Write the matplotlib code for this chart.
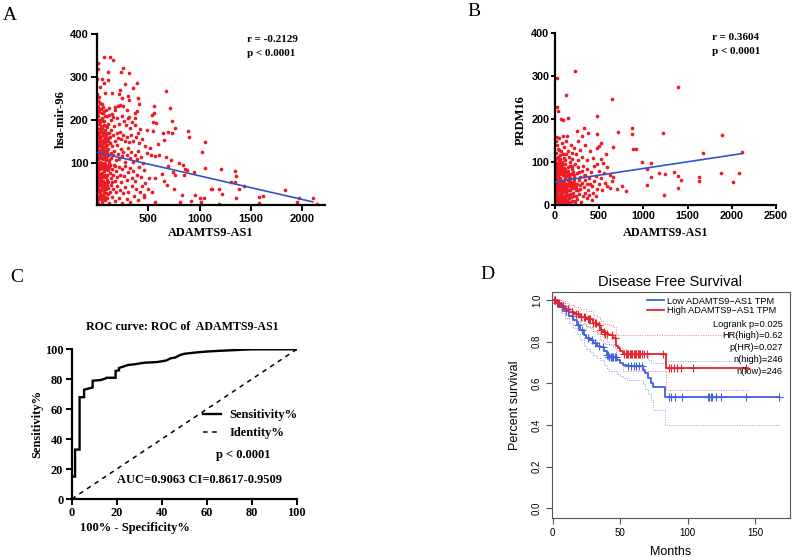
import numpy as np
import matplotlib
matplotlib.use("Agg")
import matplotlib.pyplot as plt

W, H = 797, 557
SERIF = "Liberation Serif"
SANS = "Liberation Sans"
RED = "#ec1c24"
BLUE = "#3552c8"

# ---- panel A: ADAMTS9-AS1 vs hsa-mir-96 ----
a_points = [
    # sparse tail
    (542, 196), (578, 193), (487, 175), (546, 173), (644, 169), (693, 171), (758, 180), (732, 169),
    (650, 152), (594, 144), (895, 160), (1052, 148), (1019, 124), (470, 138), (519, 134), (487, 123),
    (529, 118), (562, 116), (601, 118), (673, 114), (725, 105), (693, 93), (797, 99), (836, 95),
    (856, 85), (879, 82), (738, 79), (764, 70), (846, 70), (944, 78), (1052, 87), (568, 64),
    (634, 74), (650, 58), (683, 47), (748, 37), (823, 25), (804, 8), (911, 9), (953, 23),
    (1042, 17), (1009, 8), (497, 39), (536, 30), (454, 23), (562, 8), (464, 51), (510, 64),
    (1205, 85), (1346, 81), (1352, 68), (1343, 54), (1303, 54), (1434, 44), (1385, 38), (1107, 39),
    (1189, 38), (1215, 26), (1352, 17), (1581, 20), (1620, 21), (1575, 5), (1826, 35), (1950, 8),
    (1963, 18), (2104, 17), (2140, 3), (1192, 2), (1124, 39), (1003, 16),
    (670, 268), (706, 228), (735, 197), (882, 174), (552, 217), (539, 211), (555, 232),
    # upper outliers
    (72, 346), (124, 347), (160, 339), (5, 334), (13, 318), (105, 311), (235, 311), (258, 322),
    (307, 309), (3, 295), (46, 295), (72, 287), (105, 293), (268, 284), (389, 285), (346, 274),
    (225, 270), (216, 260), (29, 276), (3, 260), (20, 254), (78, 262), (144, 263), (242, 252),
    (301, 256), (314, 246), (8, 245), (46, 238), (412, 238), (176, 231), (209, 232), (252, 232),
    (291, 223), (372, 217), (389, 221), (13, 223), (72, 221), (7, 210), (78, 210), (118, 212),
    (160, 207), (307, 206), (366, 204), (402, 251),
    # dense cluster
    (5, 245), (12, 232), (20, 218), (30, 240), (38, 226), (48, 205), (55, 230), (62, 215),
    (70, 198), (85, 222), (95, 208), (110, 190), (120, 228), (135, 200), (150, 214), (165, 185),
    (180, 222), (195, 205), (210, 190), (225, 235), (240, 210), (260, 198), (280, 188), (300, 205),
    (320, 180), (345, 195), (370, 188), (395, 170), (420, 178), (3, 200), (15, 190), (25, 178),
    (40, 185), (52, 172), (65, 188), (78, 176), (88, 165), (100, 182), (115, 170), (128, 160),
    (140, 176), (155, 165), (172, 150), (190, 168), (205, 158), (220, 172), (235, 155), (250, 165),
    (270, 150), (290, 160), (310, 148), (330, 165), (355, 150), (380, 160), (410, 145), (440, 155),
    (2, 155), (8, 145), (14, 160), (22, 138), (30, 150), (36, 128), (44, 142), (50, 120),
    (58, 135), (66, 112), (74, 148), (82, 126), (90, 140), (98, 115), (106, 132), (114, 105),
    (122, 145), (132, 122), (140, 110), (150, 138), (160, 118), (170, 128), (182, 105), (195, 140),
    (208, 120), (218, 108), (230, 132), (245, 115), (258, 125), (272, 102), (288, 118), (300, 135),
    (318, 110), (335, 125), (350, 102), (368, 118), (385, 108), (402, 128), (425, 112), (448, 100),
    (4, 120), (10, 108), (18, 125), (26, 102), (34, 115), (42, 100), (56, 108), (70, 100),
    (85, 106), (95, 122),
    (3, 95), (9, 82), (15, 90), (20, 70), (27, 85), (33, 62), (40, 92), (47, 75),
    (54, 88), (60, 58), (68, 80), (76, 92), (84, 66), (92, 85), (100, 72), (108, 55),
    (116, 90), (124, 76), (132, 64), (142, 86), (152, 70), (162, 95), (172, 58), (185, 80),
    (198, 66), (210, 90), (222, 72), (235, 55), (248, 85), (262, 68), (276, 92), (290, 60),
    (305, 78), (320, 88), (338, 64), (352, 80), (370, 56), (388, 72), (405, 90), (430, 66),
    (455, 82), (6, 66), (12, 52), (24, 60), (38, 56), (50, 68), (64, 52), (80, 96),
    (96, 60), (112, 98), (128, 94), (145, 54), (178, 92),
    (2, 45), (8, 30), (14, 40), (19, 22), (26, 48), (32, 15), (38, 35), (45, 8),
    (52, 42), (58, 25), (66, 38), (74, 12), (82, 45), (90, 28), (98, 18), (108, 40),
    (118, 5), (126, 32), (135, 48), (148, 20), (160, 38), (172, 10), (185, 30), (198, 45),
    (212, 18), (225, 35), (240, 5), (256, 28), (272, 42), (288, 15), (305, 32), (322, 8),
    (340, 45), (358, 22), (375, 38), (395, 12), (415, 30), (438, 45), (460, 20), (4, 12),
    (10, 5), (48, 20),
    (1, 180), (6, 172), (11, 165), (17, 150), (23, 168), (29, 158), (35, 175), (41, 162),
    (47, 150), (53, 180), (59, 165), (65, 155), (71, 170), (77, 158), (83, 185), (89, 150),
    (95, 170), (103, 158), (111, 150), (2, 132), (7, 138), (13, 112), (19, 146), (25, 130),
    (31, 120), (37, 140), (43, 110), (49, 135), (55, 122), (61, 145), (67, 128), (73, 118),
    (79, 136), (86, 112), (93, 130), (101, 140), (109, 118), (1, 88), (5, 75), (11, 98),
    (17, 58), (23, 94), (29, 74), (35, 98), (41, 64), (47, 90), (53, 70), (59, 94),
    (65, 66), (71, 86), (77, 70), (87, 52), (95, 92), (103, 82), (1, 20), (6, 55),
    (16, 50), (21, 35), (29, 28), (35, 50), (42, 25), (57, 50), (63, 15), (70, 30),
    (80, 20), (88, 38), (96, 48), (104, 26), (3, 215), (9, 200), (16, 225), (27, 200),
    (33, 195), (45, 215), (60, 198),
]
a_fit = (124.0, -0.0552)   # intercept, slope
a_fit_end = 2100

# ---- panel B: ADAMTS9-AS1 vs PRDM16 ----
b_points = [
    (227, 313), (19, 297), (121, 256), (649, 246), (1390, 276), (19, 228), (30, 218), (68, 200),
    (151, 203), (87, 198), (472, 207), (19, 159), (94, 161), (246, 173), (329, 179), (377, 168),
    (472, 165), (718, 171), (869, 179), (876, 165), (1227, 168), (1669, 122), (1889, 163), (888, 130),
    (912, 130), (499, 138), (661, 136), (989, 101), (1084, 99), (1039, 85), (1171, 74), (1246, 72),
    (1341, 78), (1390, 68), (1428, 58), (1624, 65), (1624, 57), (1877, 74), (2080, 75), (2013, 54),
    (1238, 23), (1039, 46), (1084, 65), (1390, 39), (2115, 124),
    (5, 5), (12, 15), (20, 25), (28, 8), (36, 20), (45, 3), (55, 18), (65, 28),
    (75, 10), (85, 22), (95, 5), (108, 15), (120, 28), (135, 12), (150, 24), (165, 6),
    (180, 18), (198, 28), (215, 10), (232, 22), (250, 14), (270, 26), (292, 8), (315, 20),
    (340, 28), (365, 16), (390, 24), (420, 12), (8, 28), (16, 10), (24, 2), (40, 12),
    (60, 8), (90, 14), (110, 2), (140, 20), (430, 28), (460, 22),
    (3, 35), (10, 48), (18, 40), (26, 55), (33, 32), (42, 50), (50, 42), (58, 58),
    (66, 36), (74, 52), (82, 44), (90, 34), (100, 56), (112, 40), (124, 50), (136, 34),
    (148, 58), (160, 44), (174, 36), (188, 52), (202, 40), (218, 56), (234, 34), (250, 48),
    (268, 58), (285, 38), (305, 52), (325, 42), (345, 58), (368, 36), (392, 50), (415, 44),
    (440, 56), (470, 38), (500, 48), (530, 36), (560, 52), (590, 44), (620, 40), (650, 55),
    (6, 58), (14, 32), (30, 45), (46, 36), (70, 44), (96, 48), (130, 42), (155, 52),
    (195, 46), (240, 42), (280, 46), (360, 48), (700, 38), (760, 45), (800, 32),
    (4, 65), (11, 78), (19, 92), (27, 68), (35, 85), (43, 72), (51, 98), (60, 62),
    (69, 80), (78, 94), (87, 70), (97, 86), (108, 64), (118, 96), (130, 76), (142, 88),
    (155, 66), (168, 92), (182, 72), (196, 84), (212, 62), (228, 96), (245, 74), (262, 88),
    (280, 66), (300, 80), (320, 92), (342, 70), (365, 84), (388, 64), (412, 76), (438, 90),
    (465, 68), (495, 80), (525, 64), (555, 74), (590, 88), (625, 70), (660, 66), (8, 88),
    (15, 62), (23, 76), (55, 82), (92, 78), (125, 68), (175, 64), (205, 78), (270, 76),
    (330, 68), (480, 95), (540, 98),
    (5, 105), (12, 122), (20, 140), (30, 112), (40, 155), (50, 128), (62, 108), (75, 145),
    (88, 118), (100, 135), (115, 104), (130, 150), (145, 126), (160, 112), (178, 140), (195, 108),
    (215, 132), (235, 118), (255, 104), (280, 128), (305, 112), (335, 140), (360, 104), (395, 125),
    (430, 110), (470, 132), (520, 108), (580, 118), (8, 150), (35, 130), (68, 125), (140, 160),
    (260, 150), (300, 160), (520, 145),
    (2, 12), (7, 22), (14, 4), (21, 14), (30, 18), (38, 4), (47, 24), (53, 10),
    (62, 16), (70, 4), (80, 16), (100, 22), (115, 10), (128, 22), (145, 8), (158, 16),
    (172, 26), (190, 10), (208, 20), (225, 6), (2, 45), (8, 40), (12, 55), (22, 48),
    (37, 40), (54, 52), (62, 46), (78, 38), (86, 56), (104, 44), (118, 36), (140, 48),
    (166, 56), (182, 42), (210, 48), (226, 42), (258, 36), (2, 75), (6, 80), (13, 70),
    (17, 84), (31, 74), (39, 66), (47, 90), (57, 72), (64, 88), (73, 74), (83, 84),
    (103, 74), (113, 84), (137, 70), (150, 80), (163, 72), (188, 92), (220, 70), (2, 100),
    (9, 96), (16, 110), (25, 98), (44, 104), (56, 116), (81, 100), (105, 110), (122, 118),
    (170, 100), (190, 120), (3, 20), (5, 60), (26, 30), (34, 62), (44, 58), (72, 26),
    (93, 30), (125, 30), (150, 36), (175, 50),
]
b_fit = (54.0, 0.0311)
b_fit_end = 2120

# ---- panel C: ROC curve ----
roc_fpr = [0, 0, 1.5, 1.5, 3.5, 3.5, 5.5, 5.5, 9.3, 9.3, 13, 15, 15.5, 19.5, 19.5, 21, 21, 23, 25,
           28, 32, 38, 42, 44, 46, 48, 50, 56, 60, 66, 80, 100]
roc_tpr = [0, 15, 15, 33, 33, 68, 68, 73, 74.5, 79, 79.5, 80.5, 81, 81, 85.5, 86, 87.5, 88.5, 89.5,
           90, 91, 91.5, 92.5, 94, 94.5, 96, 97, 98, 98.5, 99, 100, 100]

# ---- panel D: disease free survival ----
blue_t = [0, 3, 6, 9, 12, 15, 18, 20, 23, 25, 28, 30, 33, 35, 38, 40, 42, 48, 50, 52,
          55, 67, 68.5, 71, 72.5, 74.5, 83.5, 168]
blue_s = [1.0, 0.985, 0.965, 0.945, 0.925, 0.905, 0.88, 0.856, 0.832, 0.82, 0.808, 0.792, 0.78,
          0.773, 0.757, 0.736, 0.725, 0.712, 0.70, 0.69, 0.683, 0.664, 0.648, 0.624, 0.60, 0.584,
          0.533, 0.533]
blue_hi = [1.0, 1.0, 0.99, 0.975, 0.96, 0.945, 0.925, 0.905, 0.885, 0.875, 0.865, 0.85, 0.84,
           0.835, 0.82, 0.80, 0.79, 0.78, 0.77, 0.765, 0.76, 0.745, 0.73, 0.71, 0.70, 0.70,
           0.708, 0.708]
blue_lo = [1.0, 0.965, 0.94, 0.915, 0.89, 0.865, 0.835, 0.81, 0.78, 0.765, 0.75, 0.735, 0.72,
           0.71, 0.69, 0.67, 0.66, 0.645, 0.635, 0.625, 0.615, 0.595, 0.575, 0.55, 0.52, 0.47,
           0.40, 0.40]
red_t = [0, 3, 6, 9, 12, 16, 20, 25, 30, 33, 35, 37, 39, 42, 45, 47, 48.5, 50, 52, 84, 145]
red_s = [1.0, 0.985, 0.97, 0.958, 0.944, 0.931, 0.92, 0.907, 0.891, 0.88, 0.856, 0.845, 0.837,
         0.832, 0.82, 0.78, 0.768, 0.755, 0.742, 0.672, 0.672]
red_hi = [1.0, 1.0, 0.995, 0.985, 0.975, 0.965, 0.955, 0.945, 0.93, 0.92, 0.9, 0.89, 0.885,
          0.88, 0.87, 0.835, 0.83, 0.83, 0.83, 0.83, 0.83]
red_lo = [1.0, 0.97, 0.945, 0.93, 0.915, 0.9, 0.885, 0.87, 0.85, 0.835, 0.81, 0.8, 0.79,
          0.785, 0.77, 0.725, 0.71, 0.7, 0.66, 0.57, 0.57]
blue_cens = [2, 4, 7, 10, 14, 19, 22, 26, 29, 31, 34, 37, 40, 41, 42, 43, 44, 45, 46, 47,
             56, 58, 60, 62, 64, 66, 86, 88, 91, 96, 115, 116, 117, 118, 121, 125, 143, 168]
red_cens = [1, 2, 3, 5, 8, 11, 14, 17, 19, 21, 23, 24, 26, 27, 28, 30, 31, 32, 34, 36, 38, 39,
            40, 44, 46, 53, 54, 55, 56, 57, 58, 59, 60, 61, 62, 63, 64, 65, 66, 68, 70, 82,
            86, 88, 90, 92, 95, 104, 143]
d_stats = ["Logrank p=0.025", "HR(high)=0.62", "p(HR)=0.027", "n(high)=246", "n(low)=246"]


def box(l, t, r, b):
    return [l / W, 1 - b / H, (r - l) / W, (b - t) / H]


def fx(x):
    return x / W


def fy(y):
    return 1 - y / H


def prism_axes(ax, length=4, pad=2):
    for s in ("top", "right"):
        ax.spines[s].set_visible(False)
    for s in ("left", "bottom"):
        ax.spines[s].set_linewidth(1.6)
    ax.tick_params(width=1.4, length=length, direction="out", pad=pad)


fig = plt.figure(figsize=(W / 100, H / 100), dpi=100)

# ---------------- A ----------------
ax = fig.add_axes(box(97, 34.3, 325, 205.3))
ax.scatter([p[0] for p in a_points], [p[1] for p in a_points], s=7, color=RED, lw=0, zorder=2)
xs = np.array([0, a_fit_end])
ax.plot(xs, a_fit[0] + a_fit[1] * xs, color=BLUE, lw=1.2, zorder=3)
ax.set_xlim(0, 2220)
ax.set_ylim(0, 400)
ax.set_xticks([500, 1000, 1500, 2000])
ax.set_yticks([100, 200, 300, 400])
prism_axes(ax)
for lab in ax.get_xticklabels() + ax.get_yticklabels():
    lab.set_fontfamily(SANS)
    lab.set_fontweight("bold")
    lab.set_fontsize(8)
fig.text(fx(211), fy(233), "ADAMTS9-AS1", family=SERIF, weight="bold", fontsize=8.8, ha="center", va="center")
fig.text(fx(61), fy(119), "hsa-mir-96", family=SERIF, weight="bold", fontsize=9, rotation=90,
         ha="center", va="center")
fig.text(fx(247), fy(40), "r = -0.2129", family=SERIF, weight="bold", fontsize=8, va="center")
fig.text(fx(247), fy(53), "p < 0.0001", family=SERIF, weight="bold", fontsize=8, va="center")
fig.text(fx(3), fy(15), "A", family=SERIF, fontsize=14, va="center")

# ---------------- B ----------------
ax = fig.add_axes(box(555, 33.3, 776, 205))
ax.scatter([p[0] for p in b_points], [p[1] for p in b_points], s=7, color=RED, lw=0, zorder=2)
xs = np.array([0, b_fit_end])
ax.plot(xs, b_fit[0] + b_fit[1] * xs, color=BLUE, lw=1.2, zorder=3)
ax.set_xlim(0, 2500)
ax.set_ylim(0, 400)
ax.set_xticks([0, 500, 1000, 1500, 2000, 2500])
ax.set_yticks([0, 100, 200, 300, 400])
prism_axes(ax, length=3, pad=1)
for lab in ax.get_xticklabels() + ax.get_yticklabels():
    lab.set_fontfamily(SANS)
    lab.set_fontweight("bold")
    lab.set_fontsize(7.8)
fig.text(fx(666), fy(233), "ADAMTS9-AS1", family=SERIF, weight="bold", fontsize=8.8, ha="center", va="center")
fig.text(fx(521), fy(120), "PRDM16", family=SERIF, weight="bold", fontsize=9, rotation=90,
         ha="center", va="center")
fig.text(fx(712), fy(38), "r = 0.3604", family=SERIF, weight="bold", fontsize=8, va="center")
fig.text(fx(712), fy(52), "p < 0.0001", family=SERIF, weight="bold", fontsize=8, va="center")
fig.text(fx(467), fy(11), "B", family=SERIF, fontsize=14, va="center")

# ---------------- C ----------------
ax = fig.add_axes(box(71.7, 349.3, 296.7, 499))
ax.plot(roc_fpr, roc_tpr, color="black", lw=1.7, label="Sensitivity%", solid_joinstyle="miter")
ax.plot([0, 100], [0, 100], color="black", lw=1.1, ls=(0, (3, 3)), label="Identity%")
ax.set_xlim(0, 100)
ax.set_ylim(0, 100)
ax.set_xticks(range(0, 101, 20))
ax.set_yticks(range(0, 101, 20))
prism_axes(ax)
for lab in ax.get_xticklabels() + ax.get_yticklabels():
    lab.set_fontfamily(SERIF)
    lab.set_fontweight("bold")
    lab.set_fontsize(8.8)
leg = ax.legend(loc="center left", bbox_to_anchor=(0.585, 0.50), frameon=False, handlelength=1.4,
                handletextpad=0.7, labelspacing=0.45, borderpad=0, borderaxespad=0,
                prop={"family": SERIF, "weight": "bold", "size": 9})
ax.text(0.762, 0.294, "p < 0.0001", transform=ax.transAxes, family=SERIF, weight="bold",
        fontsize=9, ha="center", va="center")
ax.text(0.57, 0.127, "AUC=0.9063 CI=0.8617-0.9509", transform=ax.transAxes, family=SERIF,
        weight="bold", fontsize=9, ha="center", va="center")
fig.text(fx(182), fy(327), "ROC curve: ROC of  ADAMTS9-AS1", family=SERIF, weight="bold",
         fontsize=8.6, ha="center", va="center")
fig.text(fx(37), fy(424), "Sensitivity%", family=SERIF, weight="bold", fontsize=9, rotation=90,
         ha="center", va="center")
fig.text(fx(135), fy(528), "100% - Specificity%", family=SERIF, weight="bold", fontsize=9,
         ha="center", va="center")
fig.text(fx(10), fy(277), "C", family=SERIF, fontsize=14, va="center")

# ---------------- D ----------------
ax = fig.add_axes(box(551.7, 291.7, 790, 518.3))
KM_BLUE = "#3f63d8"
KM_RED = "#e8232b"


def at(ts, ss, c):
    return ss[np.searchsorted(ts, c, side="right") - 1]


ax.step(blue_t, blue_hi, where="post", color=KM_BLUE, lw=0.7, ls=(0, (1, 1.5)), alpha=0.6)
ax.step(blue_t, blue_lo, where="post", color=KM_BLUE, lw=0.7, ls=(0, (1, 1.5)), alpha=0.6)
ax.step(red_t, red_hi, where="post", color=KM_RED, lw=0.7, ls=(0, (1, 1.5)), alpha=0.6)
ax.step(red_t, red_lo, where="post", color=KM_RED, lw=0.7, ls=(0, (1, 1.5)), alpha=0.6)
lb, = ax.step(blue_t, blue_s, where="post", color=KM_BLUE, lw=1.3)
lr, = ax.step(red_t, red_s, where="post", color=KM_RED, lw=1.3)
ax.plot(blue_cens, [at(np.array(blue_t), blue_s, c) for c in blue_cens], ls="none", marker="+",
        ms=5.5, mew=0.8, color=KM_BLUE)
ax.plot(red_cens, [at(np.array(red_t), red_s, c) for c in red_cens], ls="none", marker="+",
        ms=5.5, mew=0.8, color=KM_RED)
ax.set_xlim(-0.74, 175.9)
ax.set_ylim(-0.048, 1.04)
ax.set_xticks([0, 50, 100, 150])
ax.set_yticks([0, 0.2, 0.4, 0.6, 0.8, 1.0])
ax.set_yticklabels(["0.0", "0.2", "0.4", "0.6", "0.8", "1.0"], rotation=90, va="center")
for s in ax.spines.values():
    s.set_color("#555555")
    s.set_linewidth(0.8)
ax.tick_params(length=4, width=0.8, color="#555555", labelsize=7, pad=3)
for lab in ax.get_xticklabels() + ax.get_yticklabels():
    lab.set_fontfamily(SANS)
ax.legend([lb, lr], ["Low ADAMTS9\u2212AS1 TPM", "High ADAMTS9\u2212AS1 TPM"], loc="upper left",
          bbox_to_anchor=(0.399, 0.978), frameon=False, borderpad=0, borderaxespad=0,
          handlelength=1.8, handletextpad=0.4, labelspacing=0.02,
          prop={"family": SANS, "size": 6.7})
for i, txt in enumerate(d_stats):
    ax.text(0.969, 0.857 - i * 0.052, txt, transform=ax.transAxes, family=SANS, fontsize=6.7,
            ha="right", va="center")
fig.text(fx(670), fy(282), "Disease Free Survival", family=SANS, fontsize=10.5, ha="center", va="center")
fig.text(fx(515), fy(405), "Percent survival", family=SANS, fontsize=9, rotation=90,
         ha="center", va="center")
fig.text(fx(671), fy(552), "Months", family=SANS, fontsize=9, ha="center", va="center")
fig.text(fx(480), fy(275), "D", family=SERIF, fontsize=14, va="center")

fig.savefig("out.png", dpi=100)
